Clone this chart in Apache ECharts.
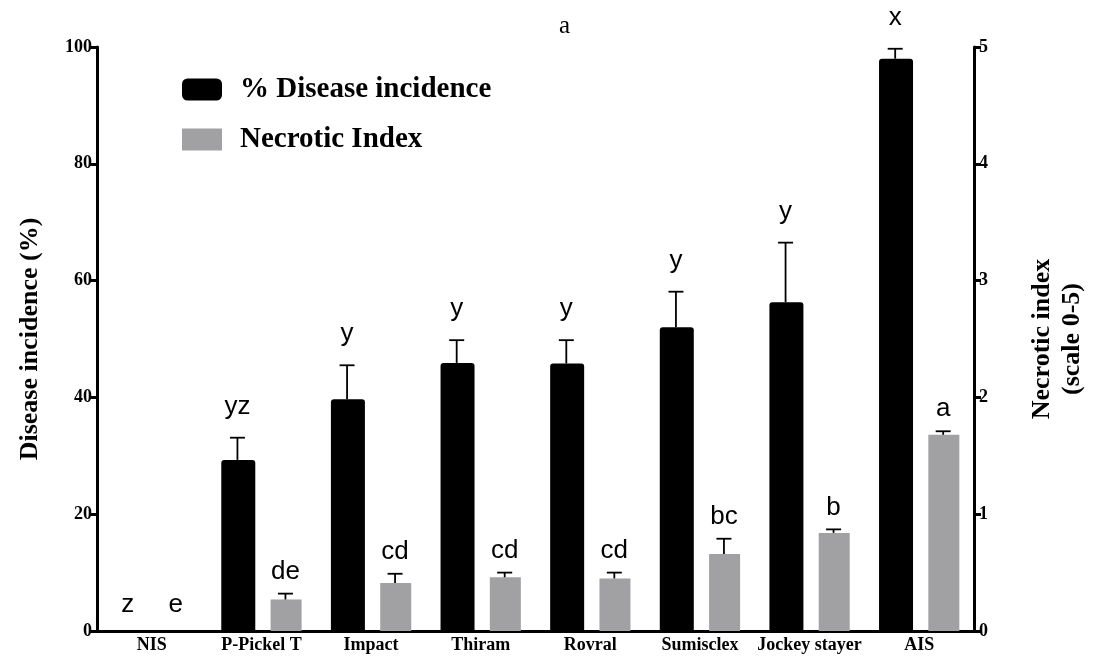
<!DOCTYPE html>
<html>
<head>
<meta charset="utf-8">
<script src="https://cdn.jsdelivr.net/npm/echarts@6/dist/echarts.min.js"></script>
<style>html,body{margin:0;padding:0;background:#fff}#c{width:1095px;height:669px}</style>
</head>
<body>
<div id="c"></div>
<script>
const categories = ['NIS', 'P-Pickel T', 'Impact', 'Thiram', 'Rovral', 'Sumisclex', 'Jockey stayer', 'AIS'];
const incidence = [0, 29.3, 39.7, 45.9, 45.8, 52.0, 56.3, 98.0];
const incidenceErr = [0, 3.8, 5.8, 3.9, 4.0, 6.1, 10.2, 1.7];
const incidenceLetters = ['z', 'yz', 'y', 'y', 'y', 'y', 'y', 'x'];
const necrotic = [0, 0.27, 0.41, 0.46, 0.45, 0.66, 0.84, 1.68];
const necroticErr = [0, 0.05, 0.08, 0.04, 0.05, 0.13, 0.03, 0.03];
const necroticLetters = ['e', 'de', 'cd', 'cd', 'cd', 'bc', 'b', 'a'];
const leftTicks = [0, 20, 40, 60, 80, 100];
const rightTicks = [0, 1, 2, 3, 4, 5];

const SERIF = 'Liberation Serif';
const SANS = 'Liberation Sans';
const BLACK = '#000000';
const GRAY = '#a1a1a4';

function errRenderer(values, errs, letters, offset, letterGap, zeroGap) {
  return function (params, api) {
    const i = api.value(0);
    const v = values[i], e = errs[i];
    const base = api.coord([i, v]);
    const top = api.coord([i, v + e]);
    const x = base[0] + offset;
    const children = [];
    if (e > 0) {
      const st = { stroke: '#000', lineWidth: 1.8 };
      children.push({ type: 'line', shape: { x1: x, y1: base[1], x2: x, y2: top[1] }, style: st });
      children.push({ type: 'line', shape: { x1: x - 7.5, y1: top[1], x2: x + 7.5, y2: top[1] }, style: st });
    }
    children.push({
      type: 'text',
      style: {
        text: letters[i], x: x, y: top[1] - (v + e > 0 ? letterGap : zeroGap),
        align: 'center', verticalAlign: 'bottom',
        fontFamily: SANS, fontSize: 26, fill: '#000'
      }
    });
    return { type: 'group', children: children };
  };
}

const chart = echarts.init(document.getElementById('c'));
chart.setOption({
  animation: false,
  backgroundColor: '#fff',
  title: {
    text: 'a', left: 554, top: 9,
    textStyle: { fontFamily: SERIF, fontSize: 25, fontWeight: 'normal', color: '#000' }
  },
  legend: {
    orient: 'vertical', left: 177, top: 70,
    itemWidth: 40, itemHeight: 22, itemGap: 21,
    textStyle: { fontFamily: SERIF, fontSize: 29, fontWeight: 'bold', color: '#000', padding: [0, 0, 0, 13] },
    data: [
      { name: '% Disease incidence', icon: 'roundRect', itemStyle: { color: BLACK } },
      { name: 'Necrotic Index', icon: 'rect', itemStyle: { color: GRAY } }
    ]
  },
  grid: { left: 97, right: 119, top: 47, bottom: 38, containLabel: false },
  xAxis: {
    type: 'category', data: categories,
    axisLine: { lineStyle: { color: '#000', width: 3 } },
    axisTick: { alignWithLabel: true, length: 7, lineStyle: { color: '#000', width: 3 } },
    axisLabel: { interval: 0, hideOverlap: false, fontFamily: SERIF, fontSize: 18, fontWeight: 'bold', color: '#000', margin: 5 }
  },
  yAxis: [
    {
      type: 'value', min: 0, max: leftTicks[leftTicks.length - 1], interval: leftTicks[1] - leftTicks[0],
      name: 'Disease incidence (%)', nameLocation: 'middle', nameGap: 54,
      nameTextStyle: { fontFamily: SERIF, fontSize: 26, fontWeight: 'bold', color: '#000' },
      axisLine: { show: true, lineStyle: { color: '#000', width: 3 } },
      axisTick: { show: true, length: 7, lineStyle: { color: '#000', width: 3 } },
      axisLabel: { fontFamily: SERIF, fontSize: 18, fontWeight: 'bold', color: '#000', margin: 5 },
      splitLine: { show: false }
    },
    {
      type: 'value', min: 0, max: rightTicks[rightTicks.length - 1], interval: rightTicks[1] - rightTicks[0],
      position: 'right',
      name: 'Necrotic index\n(scale 0-5)', nameLocation: 'middle', nameGap: 53, nameRotate: 90,
      nameTextStyle: { fontFamily: SERIF, fontSize: 26, fontWeight: 'bold', color: '#000', lineHeight: 30 },
      axisLine: { show: true, lineStyle: { color: '#000', width: 3 } },
      axisTick: { show: true, length: 7, lineStyle: { color: '#000', width: 3 } },
      axisLabel: { fontFamily: SERIF, fontSize: 18, fontWeight: 'bold', color: '#000', margin: 5 },
      splitLine: { show: false }
    }
  ],
  series: [
    {
      name: '% Disease incidence', type: 'bar', yAxisIndex: 0, data: incidence,
      barWidth: 34, itemStyle: { color: BLACK, borderRadius: [3, 3, 0, 0] }
    },
    {
      name: 'Necrotic Index', type: 'bar', yAxisIndex: 1, data: necrotic,
      barWidth: 31, barGap: '45%', itemStyle: { color: GRAY }
    },
    {
      type: 'custom', yAxisIndex: 0, z: 5,
      data: categories.map((c, i) => [i]),
      renderItem: errRenderer(incidence, incidenceErr, incidenceLetters, -24, 18, 13),
      silent: true
    },
    {
      type: 'custom', yAxisIndex: 1, z: 5,
      data: categories.map((c, i) => [i]),
      renderItem: errRenderer(necrotic, necroticErr, necroticLetters, 24, 9, 13),
      silent: true
    }
  ]
});
</script>
</body>
</html>
